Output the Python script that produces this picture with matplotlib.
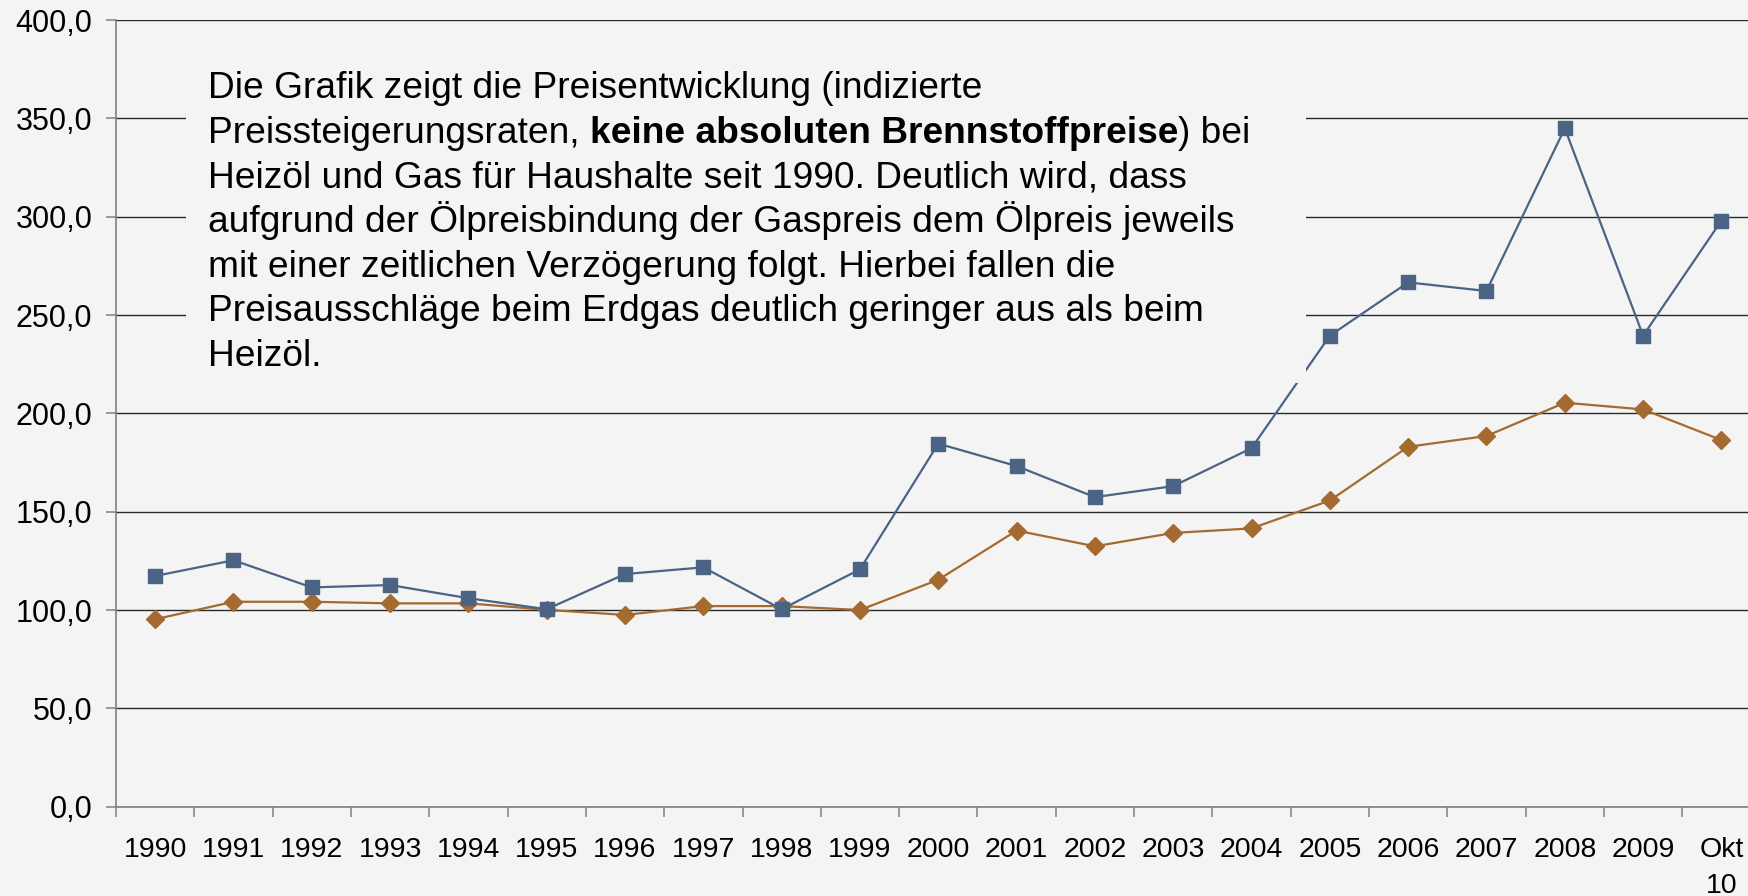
import matplotlib
matplotlib.use("Agg")
import matplotlib.pyplot as plt
from matplotlib.patches import Rectangle
import numpy as np

categories = ["1990", "1991", "1992", "1993", "1994", "1995", "1996", "1997", "1998", "1999",
              "2000", "2001", "2002", "2003", "2004", "2005", "2006", "2007", "2008", "2009", "Okt\n10"]
heizoel = [117.3, 125.3, 111.5, 112.7, 106.0, 100.4, 118.3, 121.7, 100.4, 120.7,
           184.6, 173.2, 157.4, 163.0, 182.3, 239.5, 266.6, 262.2, 344.9, 239.5, 298.0]
erdgas = [95.3, 104.2, 104.2, 103.4, 103.4, 100.1, 97.5, 102.0, 102.0, 100.0,
          115.4, 140.4, 132.4, 139.2, 141.5, 155.7, 183.0, 188.5, 205.4, 202.0, 186.4]
yticks = [0, 50, 100, 150, 200, 250, 300, 350, 400]

text_lines = [
    "Die Grafik zeigt die Preisentwicklung (indizierte",
    None,
    "Heizöl und Gas für Haushalte seit 1990. Deutlich wird, dass",
    "aufgrund der Ölpreisbindung der Gaspreis dem Ölpreis jeweils",
    "mit einer zeitlichen Verzögerung folgt. Hierbei fallen die",
    "Preisausschläge beim Erdgas deutlich geringer aus als beim",
    "Heizöl.",
]
line2_parts = [("Preissteigerungsraten, ", "normal"),
               ("keine absoluten Brennstoffpreise", "bold"),
               (") bei", "normal")]

plt.rcParams['font.family'] = ['Liberation Sans', 'DejaVu Sans']

W, H = 1748, 896
bg = "#f4f4f4"
fig = plt.figure(figsize=(W / 100, H / 100), dpi=100, facecolor=bg)
ax = fig.add_axes([116 / W, 89.3 / H, (1760.6 - 116) / W, 786.7 / H], facecolor=bg)

x = np.arange(len(categories))
blue = "#4b6384"
brown = "#a56a30"
ax.plot(x, heizoel, color=blue, lw=1.6, marker="s", ms=10, mec=blue, mfc=blue, zorder=4, clip_on=False)
ax.plot(x, erdgas, color=brown, lw=1.6, marker="D", ms=9, mec=brown, mfc=brown, zorder=3, clip_on=False)

ax.set_ylim(0, 400)
ax.set_xlim(-0.5, len(categories) - 0.5)
ax.set_yticks(yticks)
ax.set_yticklabels([f"{v:.1f}".replace(".", ",") for v in yticks])
ax.yaxis.grid(True, color="#2a2a2a", lw=1.0)
ax.set_axisbelow(True)

ax.set_xticks(x)
ax.set_xticklabels(categories)
for lab in ax.get_xticklabels():
    lab.set_linespacing(1.5)
ax.set_xticks(np.arange(-0.5, len(categories), 1.0), minor=True)
ax.tick_params(axis="x", which="major", length=0, pad=22, labelsize=20.5, colors="black")
ax.tick_params(axis="x", which="minor", length=7, width=1.1, color="#808080", direction="out")
ax.tick_params(axis="y", length=7, width=1.1, color="#808080", pad=10, labelsize=22)

for s in ["top", "right"]:
    ax.spines[s].set_visible(False)
for s in ["left", "bottom"]:
    ax.spines[s].set_color("#808080")
    ax.spines[s].set_linewidth(1.2)

# text box covering the grid
rect = Rectangle((186 / W, 1 - 383 / H), (1306 - 186) / W, (383 - 60) / H,
                 transform=fig.transFigure, facecolor=bg, edgecolor="none", zorder=10)
fig.patches.append(rect)

fs = 26.7
x0 = 208 / W
base0 = 98.3
step = 44.6
renderer = fig.canvas.get_renderer()
for i, line in enumerate(text_lines):
    yb = 1 - (base0 + i * step) / H
    if line is not None:
        fig.text(x0, yb, line, fontsize=fs, va="baseline", ha="left", zorder=11)
    else:
        cur = x0
        for txt, wt in line2_parts:
            t = fig.text(cur, yb, txt, fontsize=fs, va="baseline", ha="left", fontweight=wt, zorder=11)
            bb = t.get_window_extent(renderer=renderer)
            cur = cur + bb.width / W

fig.savefig("out.png", dpi=100, facecolor=bg)
